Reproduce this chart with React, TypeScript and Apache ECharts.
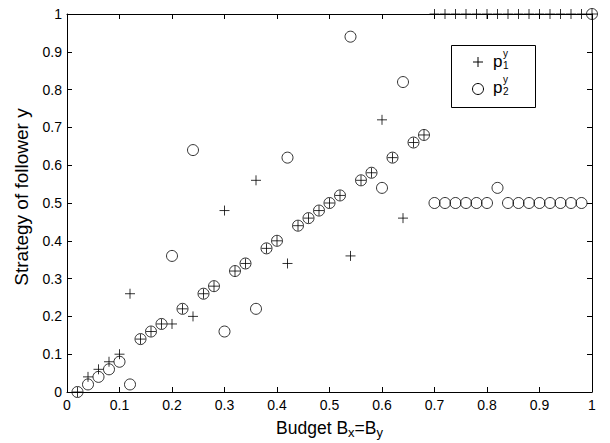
import React, { useEffect, useRef } from "react";
import * as echarts from "echarts";

const budget = [
  0.02, 0.04, 0.06, 0.08, 0.1, 0.12, 0.14, 0.16, 0.18, 0.2,
  0.22, 0.24, 0.26, 0.28, 0.3, 0.32, 0.34, 0.36, 0.38, 0.4,
  0.42, 0.44, 0.46, 0.48, 0.5, 0.52, 0.54, 0.56, 0.58, 0.6,
  0.62, 0.64, 0.66, 0.68, 0.7, 0.72, 0.74, 0.76, 0.78, 0.8,
  0.82, 0.84, 0.86, 0.88, 0.9, 0.92, 0.94, 0.96, 0.98, 1.0,
];
const p1 = [
  0, 0.04, 0.06, 0.08, 0.1, 0.26, 0.14, 0.16, 0.18, 0.18,
  0.22, 0.2, 0.26, 0.28, 0.48, 0.32, 0.34, 0.56, 0.38, 0.4,
  0.34, 0.44, 0.46, 0.48, 0.5, 0.52, 0.36, 0.56, 0.58, 0.72,
  0.62, 0.46, 0.66, 0.68, 1, 1, 1, 1, 1, 1,
  1, 1, 1, 1, 1, 1, 1, 1, 1, 1,
];
const p2 = [
  0, 0.02, 0.04, 0.06, 0.08, 0.02, 0.14, 0.16, 0.18, 0.36,
  0.22, 0.64, 0.26, 0.28, 0.16, 0.32, 0.34, 0.22, 0.38, 0.4,
  0.62, 0.44, 0.46, 0.48, 0.5, 0.52, 0.94, 0.56, 0.58, 0.54,
  0.62, 0.82, 0.66, 0.68, 0.5, 0.5, 0.5, 0.5, 0.5, 0.5,
  0.54, 0.5, 0.5, 0.5, 0.5, 0.5, 0.5, 0.5, 0.5, 1,
];

const FONT = "'Liberation Sans', Arial, Helvetica, sans-serif";
const PLUS = "path://M0,5L10,5M5,0L5,10";

export default function App() {
  const ref = useRef<HTMLDivElement>(null);
  useEffect(() => {
    if (!ref.current) return;
    const chart = echarts.init(ref.current, undefined, { renderer: "svg" });
    const axisCommon = {
      type: "value" as const,
      min: 0,
      max: 1,
      interval: 0.1,
      axisLine: { show: true, onZero: false, lineStyle: { color: "#000", width: 1 } },
      axisTick: { show: true, inside: true, length: 5, lineStyle: { color: "#000" } },
      splitLine: { show: false },
    };
    const labelStyle = { color: "#000", fontSize: 14, fontFamily: FONT };
    chart.setOption({
      animation: false,
      backgroundColor: "#fff",
      grid: { left: 67, right: 18, top: 14, bottom: 51, containLabel: false, outerBoundsMode: "none" },
      xAxis: [
        {
          ...axisCommon,
          position: "bottom",
          axisLabel: { ...labelStyle, margin: 6 },
          name: "{a|Budget B}{s|x}{a|=B}{s|y}",
          nameLocation: "middle",
          nameGap: 25,
          nameTextStyle: {
            rich: {
              a: { fontSize: 17.5, fontFamily: FONT, color: "#000", lineHeight: 22 },
              s: { fontSize: 13, fontFamily: FONT, color: "#000", padding: [9, 0, 0, 0], lineHeight: 22 },
            },
          },
        },
        { ...axisCommon, position: "top", axisLabel: { show: false } },
      ],
      yAxis: [
        {
          ...axisCommon,
          position: "left",
          axisLabel: { ...labelStyle, margin: 5 },
          name: "Strategy of follower y",
          nameLocation: "middle",
          nameGap: 36,
          nameTextStyle: { fontSize: 19, fontFamily: FONT, color: "#000", padding: [0, 0, 0, 12] },
        },
        { ...axisCommon, position: "right", axisLabel: { show: false } },
      ],
      series: [
        {
          name: "p1",
          type: "scatter",
          data: budget.map((x, i) => [x, p1[i]]),
          symbol: PLUS,
          symbolSize: 10,
          clip: false,
          itemStyle: { color: "none", borderColor: "#000", borderWidth: 1 },
          z: 3,
        },
        {
          name: "p2",
          type: "scatter",
          data: budget.map((x, i) => [x, p2[i]]),
          symbol: "circle",
          symbolSize: 11,
          clip: false,
          itemStyle: { color: "none", borderColor: "#000", borderWidth: 1 },
          z: 3,
        },
      ],
      graphic: [
        {
          type: "rect",
          shape: { x: 451.5, y: 45.5, width: 84, height: 62 },
          style: { fill: "#fff", stroke: "#000", lineWidth: 1 },
          z: 10,
        },
        { type: "line", shape: { x1: 473, y1: 62, x2: 483, y2: 62 }, style: { stroke: "#000", lineWidth: 1 }, z: 11 },
        { type: "line", shape: { x1: 478, y1: 57, x2: 478, y2: 67 }, style: { stroke: "#000", lineWidth: 1 }, z: 11 },
        { type: "circle", shape: { cx: 478, cy: 89, r: 5.5 }, style: { fill: "none", stroke: "#000", lineWidth: 1 }, z: 11 },
        { type: "text", x: 493, y: 53, style: { text: "p", fontSize: 17, fontFamily: FONT, fill: "#000" }, z: 11 },
        { type: "text", x: 503, y: 48, style: { text: "y", fontSize: 10, fontFamily: FONT, fill: "#000" }, z: 11 },
        { type: "text", x: 503, y: 60, style: { text: "1", fontSize: 10, fontFamily: FONT, fill: "#000" }, z: 11 },
        { type: "text", x: 493, y: 79, style: { text: "p", fontSize: 17, fontFamily: FONT, fill: "#000" }, z: 11 },
        { type: "text", x: 503, y: 74, style: { text: "y", fontSize: 10, fontFamily: FONT, fill: "#000" }, z: 11 },
        { type: "text", x: 503, y: 86, style: { text: "2", fontSize: 10, fontFamily: FONT, fill: "#000" }, z: 11 },
      ],
    });
    return () => chart.dispose();
  }, []);
  return <div ref={ref} style={{ width: 610, height: 443, position: "absolute", left: 0, top: 0 }} />;
}
